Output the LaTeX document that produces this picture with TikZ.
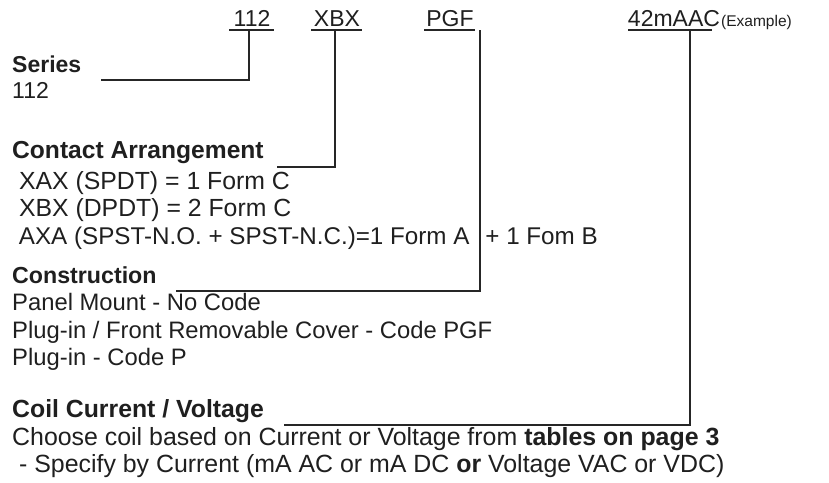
\documentclass[tikz,border=0pt]{standalone}
\usepackage{fontspec}
\setmainfont{Liberation Sans}
\begin{document}
\begin{tikzpicture}[x=1pt,y=-1pt,
  body/.style={anchor=base west,inner sep=0pt,text=black!88,font=\fontsize{#1}{27}\selectfont},
  body/.default=23.8,
  head/.style={anchor=base west,inner sep=0pt,text=black!88,font=\fontsize{#1}{27}\selectfont\bfseries},
  head/.default=23.5,
  top/.style={anchor=base,inner sep=0pt,text=black!88,font=\fontsize{23}{27}\selectfont},
  wire/.style={line width=1.8pt,black!85}]
\useasboundingbox (0,0) rectangle (829,482);
% top labels
\node[top] (t112) at (252,26) {112};
\node[top] (txbx) at (337,26) {XBX};
\node[top] (tpgf) at (450,26) {PGF};
\node[top] (taac) at (674,26) {42mAAC};
\node[anchor=base west,inner sep=0pt,text=black!88,font=\fontsize{15.5}{18}\selectfont] (tex) at (721,26) {(Example)};
% underlines
\coordinate (u112a) at (229,30); \coordinate (u112b) at (274,30);
\coordinate (uxbxa) at (311,30); \coordinate (uxbxb) at (362,30);
\coordinate (upgfa) at (424,30); \coordinate (upgfb) at (475,30);
\coordinate (uaaca) at (628,30); \coordinate (uaacb) at (712,30);
\draw[wire] (u112a) -- (u112b);
\draw[wire] (uxbxa) -- (uxbxb);
\draw[wire] (upgfa) -- (upgfb);
\draw[wire] (uaaca) -- (uaacb);
\coordinate (d112) at (249,30);
\coordinate (dxbx) at (335,30);
\coordinate (dpgf) at (480,30);
\coordinate (daac) at (690,30);
% sections
\node[head=23] (series) at (12,72) {Series};
\node[body=23] (s1) at (12,98) {112};
\node[head=24.6] (contact) at (12,158) {Contact Arrangement};
\node[body=24.8] (c1) at (12,189) {\ XAX (SPDT) = 1 Form C};
\node[body=24.8] (c2) at (12,216) {\ XBX (DPDT) = 2 Form C};
\node[body=24.2] (c3) at (12,244) {\ AXA (SPST-N.O. + SPST-N.C.)=1 Form A\hspace{16pt}+ 1 Fom B};
\node[head=23.2] (constr) at (12,283) {Construction};
\node[body=23.8] (k1) at (12,310) {Panel Mount - No Code};
\node[body=23.8] (k2) at (12,338) {Plug-in / Front Removable Cover - Code PGF};
\node[body=23.8] (k3) at (12,365) {Plug-in - Code P};
\node[head=24.8] (coil) at (12,417) {Coil Current / Voltage};
\node[body=24.9] (o1) at (12,445) {Choose coil based on Current or Voltage from \textbf{tables on page 3}};
\node[body=24.9] (o2) at (12,472) {\ - Specify by Current (mA AC or mA DC \textbf{or} Voltage VAC or VDC)};
% connectors
\coordinate (e112) at ([xshift=20pt,yshift=-8pt]series.base east);
\coordinate (exbx) at ([xshift=13pt,yshift=-9pt]contact.base east);
\coordinate (epgf) at ([xshift=19pt,yshift=-8pt]constr.base east);
\coordinate (eaac) at ([xshift=20pt,yshift=-8pt]coil.base east);
\draw[wire] (d112) |- (e112);
\draw[wire] (dxbx) |- (exbx);
\draw[wire] (dpgf) |- (epgf);
\draw[wire] (daac) |- (eaac);
\end{tikzpicture}
\end{document}
